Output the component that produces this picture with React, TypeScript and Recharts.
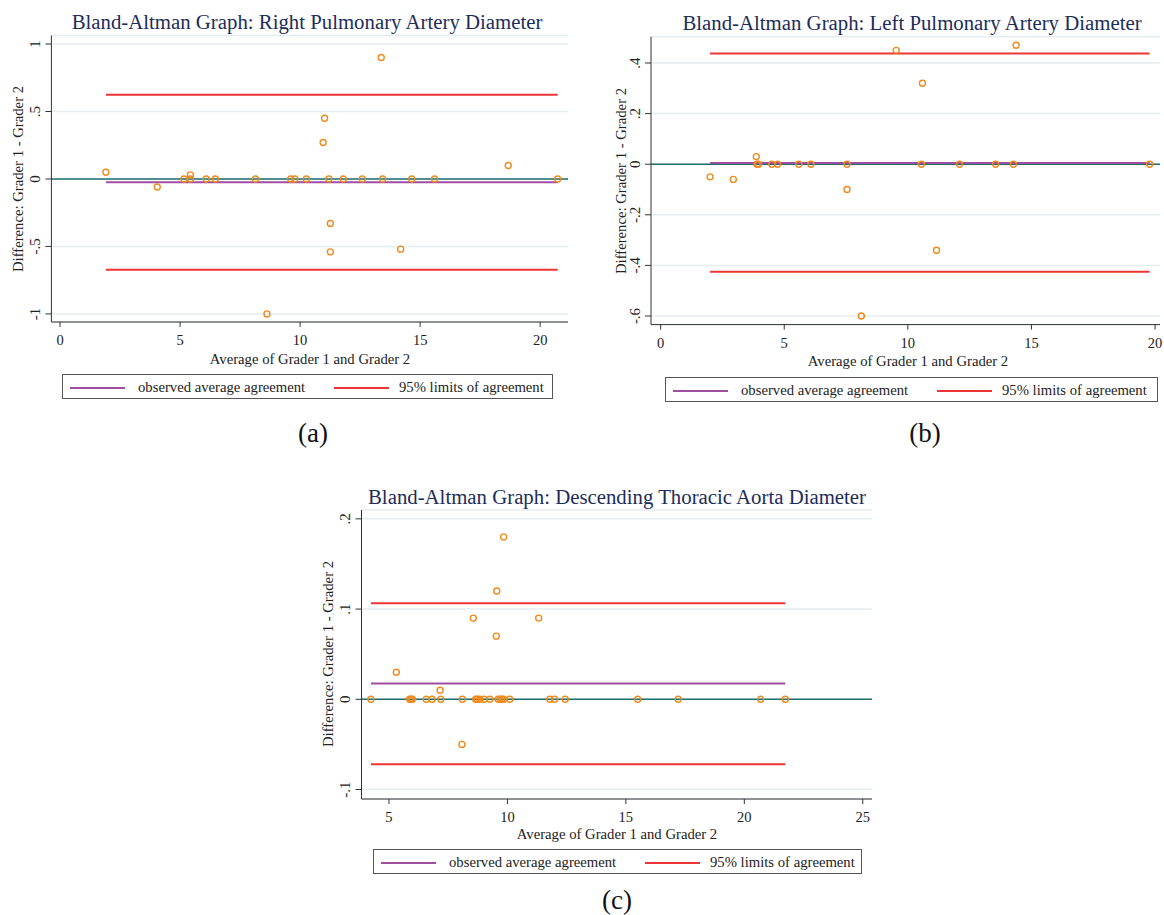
import React from "react"
import { ScatterChart, Scatter, XAxis, YAxis, CartesianGrid, ReferenceLine } from "recharts"

const FONT = "'Liberation Serif', 'Times New Roman', serif"
const ORANGE = "#f08a1c"
const PURPLE = "#a04ea0"
const RED = "#ee3535"
const TEAL = "#1f6e6e"
const GRID = "#e4edf1"
const AXIS = "#333"

// (a) Right pulmonary artery
const rpaAvg = [1.91, 4.05, 5.16, 5.43, 5.43, 6.09, 6.47, 8.14, 9.61, 9.78, 10.26, 11.2, 11.8, 12.59, 13.44, 14.65, 15.6, 20.73, 13.38, 11.02, 10.96, 11.26, 11.26, 14.19, 8.62, 18.67]
const rpaDiff = [0.05, -0.06, 0, 0.03, 0, 0, 0, 0, 0, 0, 0, 0, 0, 0, 0, 0, 0, 0, 0.9, 0.45, 0.27, -0.33, -0.54, -0.52, -1.0, 0.1]
const rpaLimits = { mean: -0.025, upper: 0.624, lower: -0.673 }

// (b) Left pulmonary artery
const lpaAvg = [2.0, 2.94, 3.87, 3.9, 3.96, 4.5, 4.73, 5.59, 6.08, 7.54, 7.54, 8.12, 9.53, 10.59, 10.55, 11.16, 12.09, 13.55, 14.27, 14.38, 19.78]
const lpaDiff = [-0.05, -0.06, 0.03, 0, 0, 0, 0, 0, 0, 0, -0.1, -0.6, 0.45, 0.32, 0, -0.34, 0, 0, 0, 0.47, 0]
const lpaLimits = { mean: 0.005, upper: 0.438, lower: -0.425 }

// (c) Descending thoracic aorta
const dtaAvg = [4.24, 5.31, 5.87, 5.93, 5.99, 6.57, 6.82, 7.16, 7.19, 8.08, 8.1, 8.56, 8.66, 8.73, 8.83, 9.01, 9.26, 9.55, 9.53, 9.61, 9.69, 9.77, 9.84, 9.84, 10.1, 11.32, 11.79, 11.99, 12.44, 15.5, 17.21, 20.69, 21.73]
const dtaDiff = [0, 0.03, 0, 0, 0, 0, 0, 0.01, 0, -0.05, 0, 0.09, 0, 0, 0, 0, 0, 0.12, 0.07, 0, 0, 0, 0, 0.18, 0, 0.09, 0, 0, 0, 0, 0, 0, 0]
const dtaLimits = { mean: 0.0174, upper: 0.1064, lower: -0.072 }

const xTicksA = [0, 5, 10, 15, 20]
const yTicksA = [-1, -0.5, 0, 0.5, 1]
const xTicksB = [0, 5, 10, 15, 20]
const yTicksB = [-0.6, -0.4, -0.2, 0, 0.2, 0.4]
const xTicksC = [5, 10, 15, 20, 25]
const yTicksC = [-0.1, 0, 0.1, 0.2]

const fmt = (v: number) => (v === 0 ? "0" : String(v).replace("0.", "."))

const YTick = (props: any) => {
  const { x, y, payload } = props
  return (
    <text x={x} y={y} transform={`rotate(-90 ${x} ${y})`} textAnchor="middle" fontSize={15} fill="#222" fontFamily={FONT}>
      {fmt(payload.value)}
    </text>
  )
}

const XTick = (props: any) => {
  const { x, y, payload } = props
  return (
    <text x={x} y={y} dy="0.71em" textAnchor="middle" fontSize={14.5} fill="#222" fontFamily={FONT}>
      {payload.value}
    </text>
  )
}

const Dot = (p: any) => <circle cx={p.cx} cy={p.cy} r={3} fill="none" stroke={ORANGE} strokeWidth={1.4} />

const Y_W = 40
const X_H = 34

function Panel(props: any) {
  const { left, top, width, height, box, avg, diff, limits, xDomain, yDomain, xTicks, yTicks } = props
  const data = avg.map((x: number, i: number) => ({ x, y: diff[i] }))
  const xMin = Math.min(...avg)
  const xMax = Math.max(...avg)
  const margin = {
    left: box[0] - left - Y_W,
    right: left + width - box[2],
    top: box[1] - top,
    bottom: top + height - box[3] - X_H,
  }
  return (
    <div style={{ position: "absolute", left, top }}>
      <ScatterChart width={width} height={height} margin={margin}>
        <CartesianGrid vertical={false} stroke={GRID} strokeWidth={1.5} />
        <XAxis type="number" dataKey="x" domain={xDomain} ticks={xTicks} allowDataOverflow height={X_H}
          stroke={AXIS} tickSize={5} tickMargin={8} tick={<XTick />} />
        <YAxis type="number" dataKey="y" domain={yDomain} ticks={yTicks} allowDataOverflow width={Y_W}
          stroke={AXIS} tickSize={6} tickMargin={5} tick={<YTick />} />
        <ReferenceLine y={0} stroke={TEAL} strokeWidth={1.6} />
        <ReferenceLine segment={[{ x: xMin, y: limits.mean }, { x: xMax, y: limits.mean }]} stroke={PURPLE} strokeWidth={2} />
        <ReferenceLine segment={[{ x: xMin, y: limits.upper }, { x: xMax, y: limits.upper }]} stroke={RED} strokeWidth={2} />
        <ReferenceLine segment={[{ x: xMin, y: limits.lower }, { x: xMax, y: limits.lower }]} stroke={RED} strokeWidth={2} />
        <Scatter data={data} shape={<Dot />} isAnimationActive={false} />
      </ScatterChart>
    </div>
  )
}

const centered = (x: number, y: number, extra: any = {}) => ({
  position: "absolute" as const,
  left: x,
  top: y,
  transform: "translate(-50%, -50%)" + (extra.rotate ? " rotate(-90deg)" : ""),
  whiteSpace: "nowrap" as const,
  fontFamily: FONT,
  lineHeight: 1,
  ...extra.style,
})

function Legend({ left, top, width }: { left: number; top: number; width: number }) {
  const line = (x0: number, color: string) => (
    <div style={{ position: "absolute", left: x0, top: 11.5, width: 55, height: 2, background: color }} />
  )
  const label = (x0: number, text: string) => (
    <div style={{ position: "absolute", left: x0, top: 4, fontSize: 14.7, fontFamily: FONT, color: "#222", whiteSpace: "nowrap", lineHeight: "16px" }}>{text}</div>
  )
  return (
    <div style={{ position: "absolute", left, top, width, height: 25, border: "1px solid #555", boxSizing: "border-box" }}>
      {line(7, PURPLE)}
      {label(75, "observed average agreement")}
      {line(271, RED)}
      {label(336, "95% limits of agreement")}
    </div>
  )
}

const Title = ({ x, y, text }: { x: number; y: number; text: string }) => (
  <div style={centered(x, y, { style: { fontSize: 20.8, color: "#1c2d5a" } })}>{text}</div>
)
const YTitle = ({ x, y }: { x: number; y: number }) => (
  <div style={centered(x, y, { rotate: true, style: { fontSize: 14.7, color: "#222" } })}>Difference: Grader 1 - Grader 2</div>
)
const XTitle = ({ x, y }: { x: number; y: number }) => (
  <div style={centered(x, y, { style: { fontSize: 14.7, color: "#222" } })}>Average of Grader 1 and Grader 2</div>
)
const Caption = ({ x, y, text }: { x: number; y: number; text: string }) => (
  <div style={centered(x, y, { style: { fontSize: 27, color: "#111" } })}>{text}</div>
)

export default function App() {
  return (
    <div style={{ position: "absolute", left: 0, top: 0, width: 1164, height: 915, background: "#fff", overflow: "hidden" }}>
      <Title x={307} y={22} text="Bland-Altman Graph: Right Pulmonary Artery Diameter" />
      <YTitle x={18} y={179} />
      <Panel left={0} top={0} width={580} height={360} box={[51.4, 35.4, 568, 322]}
        avg={rpaAvg} diff={rpaDiff} limits={rpaLimits} xDomain={[-0.36, 21.16]} yDomain={[-1.06, 1.064]}
        xTicks={xTicksA} yTicks={yTicksA} />
      <XTitle x={310} y={359} />
      <Legend left={62} top={374} width={491} />
      <Caption x={313} y={433} text="(a)" />

      <Title x={912} y={23} text="Bland-Altman Graph: Left Pulmonary Artery Diameter" />
      <YTitle x={621} y={181} />
      <Panel left={590} top={0} width={574} height={362} box={[651, 36.7, 1160, 324.6]}
        avg={lpaAvg} diff={lpaDiff} limits={lpaLimits} xDomain={[-0.39, 20.2]} yDomain={[-0.634, 0.504]}
        xTicks={xTicksB} yTicks={yTicksB} />
      <XTitle x={908} y={361} />
      <Legend left={665} top={377} width={493} />
      <Caption x={925} y={433} text="(b)" />

      <Title x={617} y={497} text="Bland-Altman Graph: Descending Thoracic Aorta Diameter" />
      <YTitle x={328} y={654} />
      <Panel left={310} top={480} width={580} height={357} box={[361.5, 510, 872, 799]}
        avg={dtaAvg} diff={dtaDiff} limits={dtaLimits} xDomain={[3.84, 25.39]} yDomain={[-0.1105, 0.2098]}
        xTicks={xTicksC} yTicks={yTicksC} />
      <XTitle x={617} y={834} />
      <Legend left={373} top={849} width={489} />
      <Caption x={617} y={900} text="(c)" />
    </div>
  )
}
